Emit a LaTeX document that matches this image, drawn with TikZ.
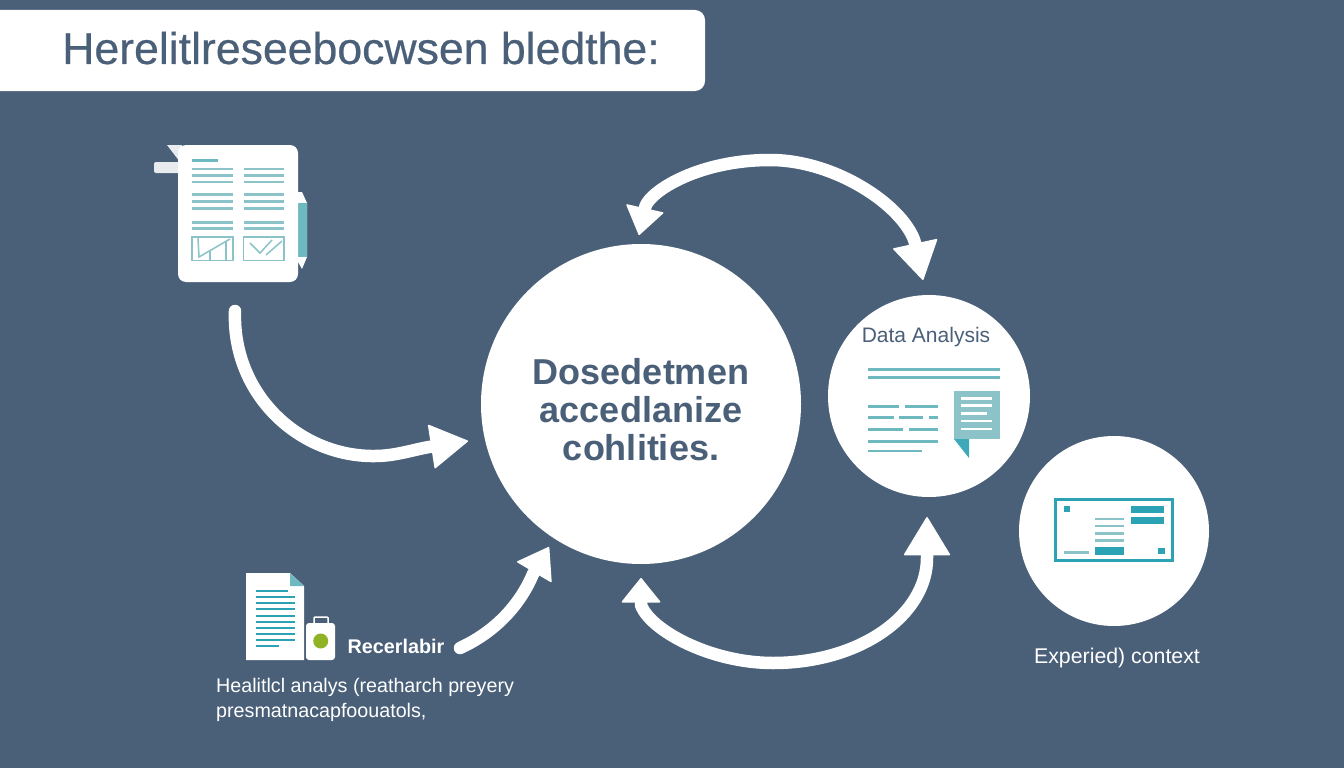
\documentclass[tikz,border=0pt]{standalone}
\usepackage{fontspec}
\setmainfont{Liberation Sans}
\newfontfamily\titlefont[FakeBold=0.5]{Liberation Sans}
\usetikzlibrary{arrows.meta}
\definecolor{slate}{HTML}{4A5F78}
\definecolor{tealdark}{HTML}{2BA3B5}
\definecolor{teallight}{HTML}{8CC3C8}
\definecolor{tealmid}{HTML}{6DB9BF}
\definecolor{olive}{HTML}{8FB324}
\tikzset{disc/.style={circle,fill=white,inner sep=0pt}}
\tikzset{flow/.style={draw=white,line width=12.5pt,line cap=round,line join=round}}
\tikzset{caption/.style={text=white,inner sep=0pt,anchor=west,font=\fontsize{19.7}{22}\selectfont}}
\tikzset{rule/.style={draw=tealmid,line width=2.5pt}}
\tikzset{ruledark/.style={draw=tealdark,line width=2.5pt}}
\tikzset{rulelight/.style={draw=teallight,line width=2.5pt}}
\begin{document}
\begin{tikzpicture}[x=1pt,y=-1pt]
  \tikzstyle{bigtip}=[-{Triangle[length=38pt,width=45pt,line width=1.5pt,round]}]
  % page background and title bar
  \path[use as bounding box,fill=slate] (0,0) rectangle (1344,768);
  \fill[white] (0,10) [rounded corners=10pt] -- (705,10) -- (705,91) [sharp corners] -- (0,91) -- cycle;
  \node (title) [text=slate,inner sep=0pt,font=\fontsize{44.6}{48}\titlefont] at (361,48) {Herelitlreseebocwsen bledthe:};

  % The three discs
  \node (core) [disc,minimum size=320pt] at (641,404) {};
  \node (core_t) [text=slate,inner sep=0pt,align=center,font=\fontsize{36}{38}\selectfont\bfseries] at (641,410)
    {Dosedetmen\\accedlanize\\cohlities.};
  \node (analysis) [disc,minimum size=202pt] at (929,396) {};
  \node (context) [disc,minimum size=190pt] at (1114,531) {};
  \node (analysis_t) [text=slate,inner sep=0pt,font=\fontsize{21}{24}\selectfont] at (926,337) {Data Analysis};
  \node (context_t) [text=white,inner sep=0pt,font=\fontsize{21.3}{24}\selectfont] at (1117,658) {Experied) context};

  % Free ends of the arrows
  \coordinate (top_l) at (639,235);
  \coordinate (top_r) at (923,280);
  \coordinate (bot_l) at (641,578);
  \coordinate (bot_r) at (927,517);
  \coordinate (rep_s) at (235,311);
  \coordinate (rep_e) at (468,441);
  \coordinate (lab_s) at (460,648);
  \coordinate (lab_e) at (549,547);

  % Arrows
  \draw[flow,bigtip] (rep_s) .. controls (232,395) and (300,457) .. (375,456) .. controls (395,456) and (412,450) .. (429,447) -- (rep_e);
  \draw[flow,-{Triangle[length=30pt,width=41pt,line width=1.5pt,round]}] (lab_s) .. controls (495,632) and (520,605) .. (533,574) -- (lab_e);
  \draw[flow,{Triangle[length=28pt,width=39pt,line width=1.5pt,round]}-{Triangle[length=38pt,width=46pt,line width=1.5pt,round]}]
    (top_l) -- (645.5,206) .. controls (652,190) and (700,160) .. (770,160) .. controls (835,160) and (902,205) .. (914.5,241) -- (top_r);
  \draw[flow,{Triangle[length=25pt,width=40pt,line width=1.5pt,round]}-{Triangle[length=39pt,width=47pt,line width=1.5pt,round]}]
    (bot_l) -- (641,605) .. controls (650,630) and (710,663) .. (773,663) .. controls (860,663) and (927,615) .. (927,558) -- (bot_r);

  % Report icon, top left
  \fill[white!88!slate] (167,145) -- (182,145) -- (180,162) -- cycle;
  \fill[white!88!slate,rounded corners=2pt] (154,162) rectangle (180,173);
  \fill[white] (298,192) -- (302,192) -- (307,203) -- (307,257) -- (302,269) -- (298,262) -- cycle;
  \fill[tealmid] (298,203) rectangle (307,257);
  \fill[white,rounded corners=8pt] (178,145) -- (298,145) -- (298,282) -- (178,282) -- cycle;
  \draw[tealmid,line width=3.5pt] (192,160.5) -- (218,160.5);
  \foreach \y in {169,175.7,182,194.3,201.3,208.3,222.3,228.7} {
    \draw[rulelight] (192,\y) -- (233,\y);
    \draw[rulelight] (244,\y) -- (284,\y);
  }
  \draw[rulelight,line width=1.5pt] (192,237) rectangle (233,260.5);
  \draw[rulelight,line width=1.5pt] (243.5,237) rectangle (284,260.5);
  \draw[rulelight,line width=1.5pt] (198,238) -- (199,257) -- (230,239);
  \draw[rulelight,line width=1.5pt] (210,250) -- (210,260) (226,241) -- (226,260);
  \draw[rulelight,line width=1.5pt] (250,243) -- (260,253) -- (272,240);
  \draw[rulelight,line width=1.5pt] (266,255) -- (282,241);

  % Document and bag icon, bottom left
  \fill[white] (246,573) -- (290,573) -- (304,586) -- (304,660) -- (246,660) -- cycle;
  \fill[tealmid] (290,573) -- (304,586) -- (290,586) -- cycle;
  \foreach \y/\e in {591/288,597.3/295,603.3/295,609.3/295,615.7/295,621.7/295,627.7/295,633.7/295,640/295,646/279} {
    \draw[ruledark,line width=2pt] (256,\y) -- (\e,\y);
  }
  \draw[white,line width=1.5pt,rounded corners=1pt] (314,623) -- (314,617) -- (328,617) -- (328,623);
  \fill[white,rounded corners=3pt] (306,623) rectangle (335,660);
  \node (lamp) [circle,fill=olive,minimum size=15pt,inner sep=0pt] at (320.7,641) {};
  \node (lab_t) [text=white,inner sep=0pt,font=\fontsize{19.8}{22}\selectfont\bfseries] at (396,646) {Recerlabir};
  \node (note_a) [caption] at (216,687) {Healitlcl analys (reatharch preyery};
  \node (note_b) [caption] at (216,712) {presmatnacapfoouatols,};

  % Icon in the analysis disc
  \foreach \y in {369.7,377.7} {
    \draw[rule] (868,\y) -- (1000,\y);
  }
  \draw[rule] (868,406.7) -- (899,406.7) (905,406.7) -- (938,406.7);
  \draw[rule] (868,417.7) -- (894,417.7) (899,417.7) -- (923,417.7) (929,417.7) -- (938,417.7);
  \draw[rule] (868,429.7) -- (903,429.7) (909,429.7) -- (938,429.7);
  \draw[rule] (868,441.3) -- (938,441.3);
  \draw[rule] (868,451) -- (922,451);
  \fill[teallight] (954,391.3) rectangle (1000,439);
  \fill[tealdark!80!teallight] (954,439) -- (969,439) -- (969,458) -- cycle;
  \foreach \y/\e in {398.3/992,405.7/992,413.3/987,421/992,429/992} {
    \draw[white,line width=2.5pt] (961,\y) -- (\e,\y);
  }

  % Icon in the context disc
  \draw[tealdark,line width=3pt] (1055.5,499.5) rectangle (1172.5,560.5);
  \fill[tealdark] (1064,506) rectangle (1070,512);
  \fill[tealdark] (1158,548) rectangle (1165,554);
  \fill[tealdark] (1131,505.7) rectangle (1164,512.7);
  \fill[tealdark] (1131,516.7) rectangle (1164,524.3);
  \fill[tealdark] (1095,547) rectangle (1124,554.7);
  \foreach \y in {519,526,533.3,540.3} {
    \draw[rulelight] (1095,\y) -- (1124,\y);
  }
  \draw[rulelight] (1064,552.3) -- (1089,552.3);
\end{tikzpicture}
\end{document}
